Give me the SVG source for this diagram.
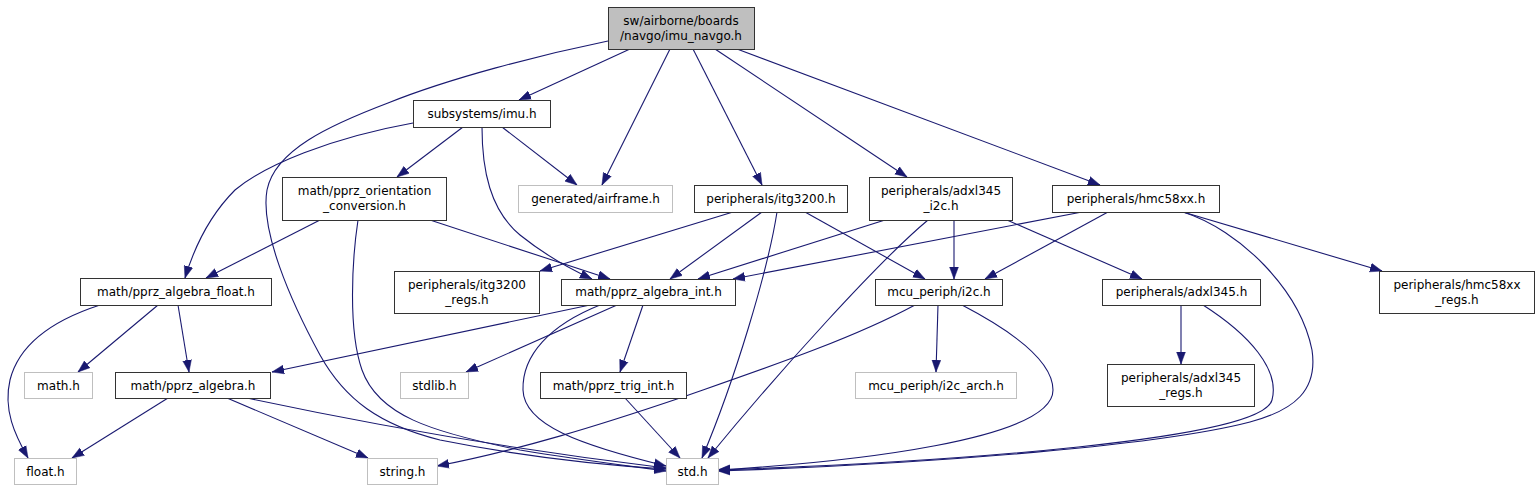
<svg xmlns="http://www.w3.org/2000/svg" width="1540" height="491" viewBox="0 0 1540 491">
<style>
.n rect{fill:#fff;stroke:#333;stroke-width:1}
.g rect{fill:#fff;stroke:#bfbfbf;stroke-width:1}
.r rect{fill:#bfbfbf;stroke:#333;stroke-width:1}
text{font-family:"DejaVu Sans",sans-serif;font-size:12px;fill:#000;text-anchor:middle}
#edges path{fill:none;stroke:#191970;stroke-width:1.1;marker-end:url(#a)}
</style>
<defs>
<marker id="a" markerWidth="12" markerHeight="10" refX="12" refY="5" orient="auto" markerUnits="userSpaceOnUse">
<path d="M0,0.6 L12,5 L0,9.4 z" fill="#191970" stroke="#191970" stroke-width="0.5"/>
</marker>
</defs>
<rect width="1540" height="491" fill="#fff"/>
<g id="edges">
<path d="M630,49 L519,100"/>
<path d="M608,41 C540,55 450,78 388,103 C330,125 275,150 267,190 C260,230 290,300 320,355 C345,400 380,425 440,440 C520,456 600,465 666,469"/>
<path d="M670,49 L602,185"/>
<path d="M693,49 L762,185"/>
<path d="M715,49 L907,177"/>
<path d="M737,49 L1100,185"/>
<path d="M463,127 L397,177"/>
<path d="M502,127 L577,185"/>
<path d="M413,123 C330,138 265,165 235,190 C210,215 195,245 185,278"/>
<path d="M482,127 C482,170 490,210 520,235 C545,255 568,268 592,279"/>
<path d="M320,220 L206,278"/>
<path d="M358,220 C352,260 348,330 362,370 C378,415 430,432 520,450 C580,460 630,466 666,471"/>
<path d="M430,220 L610,279"/>
<path d="M733,212 L540,271"/>
<path d="M762,212 L670,279"/>
<path d="M777,212 C768,270 735,380 702,458"/>
<path d="M805,212 L925,279"/>
<path d="M885,220 L698,279"/>
<path d="M928,220 C880,260 780,370 708,458"/>
<path d="M954,220 L954,279"/>
<path d="M1007,220 L1142,279"/>
<path d="M1082,212 L733,279"/>
<path d="M1108,212 L985,279"/>
<path d="M1183,212 L1382,271"/>
<path d="M1183,212 C1240,230 1300,290 1312,350 C1318,390 1295,410 1250,422 C1150,448 900,465 718,471"/>
<path d="M100,305 C60,318 20,340 10,380 C3,410 15,435 28,458"/>
<path d="M158,305 L78,372"/>
<path d="M178,305 L189,372"/>
<path d="M590,305 L272,372"/>
<path d="M617,305 L466,372"/>
<path d="M643,305 L620,372"/>
<path d="M600,305 C550,325 522,355 523,390 C524,425 580,445 666,466"/>
<path d="M168,398 L72,458"/>
<path d="M227,398 L368,458"/>
<path d="M247,398 C350,420 500,448 666,468"/>
<path d="M625,398 L680,458"/>
<path d="M938,305 L936,372"/>
<path d="M915,305 C850,340 760,370 680,398 C600,425 520,450 437,466"/>
<path d="M962,305 C1010,330 1053,360 1053,390 C1053,440 850,462 718,470"/>
<path d="M1181,305 L1181,364"/>
<path d="M1203,305 C1250,335 1280,370 1272,400 C1262,440 950,462 718,470"/>
</g>
<g id="root" class="r"><rect x="608.5" y="7.5" width="146" height="42"/><text x="681" y="25">sw/airborne/boards</text><text x="681" y="40">/navgo/imu_navgo.h</text></g>
<g id="imu" class="n"><rect x="413.5" y="100.5" width="137" height="27"/><text x="482" y="118">subsystems/imu.h</text></g>
<g id="airframe" class="g"><rect x="518.5" y="185.5" width="154" height="27"/><text x="595.5" y="203">generated/airframe.h</text></g>
<g id="itg3200" class="n"><rect x="694.5" y="185.5" width="153" height="27"/><text x="771" y="203">peripherals/itg3200.h</text></g>
<g id="adxl345_i2c" class="n"><rect x="869.5" y="177.5" width="143" height="43"/><text x="941" y="195">peripherals/adxl345</text><text x="941" y="210">_i2c.h</text></g>
<g id="hmc58xx" class="n"><rect x="1052.5" y="185.5" width="167" height="27"/><text x="1136" y="203">peripherals/hmc58xx.h</text></g>
<g id="orient" class="n"><rect x="282.5" y="177.5" width="164" height="43"/><text x="364.5" y="195">math/pprz_orientation</text><text x="364.5" y="210">_conversion.h</text></g>
<g id="algfloat" class="n"><rect x="80.5" y="278.5" width="191" height="27"/><text x="176" y="296">math/pprz_algebra_float.h</text></g>
<g id="itgregs" class="n"><rect x="394.5" y="271.5" width="145" height="42"/><text x="467" y="289">peripherals/itg3200</text><text x="467" y="304">_regs.h</text></g>
<g id="algint" class="n"><rect x="561.5" y="279.5" width="174" height="26"/><text x="648.5" y="296">math/pprz_algebra_int.h</text></g>
<g id="i2c" class="n"><rect x="875.5" y="279.5" width="127" height="26"/><text x="939" y="296">mcu_periph/i2c.h</text></g>
<g id="adxl345" class="n"><rect x="1102.5" y="279.5" width="158" height="26"/><text x="1181.5" y="296">peripherals/adxl345.h</text></g>
<g id="hmcregs" class="n"><rect x="1379.5" y="271.5" width="155" height="42"/><text x="1457" y="289">peripherals/hmc58xx</text><text x="1457" y="304">_regs.h</text></g>
<g id="mathh" class="g"><rect x="24.5" y="372.5" width="68" height="26"/><text x="58.5" y="390">math.h</text></g>
<g id="alg" class="n"><rect x="115.5" y="372.5" width="155" height="26"/><text x="193" y="390">math/pprz_algebra.h</text></g>
<g id="stdlib" class="g"><rect x="400.5" y="372.5" width="68" height="26"/><text x="434.5" y="390">stdlib.h</text></g>
<g id="trig" class="n"><rect x="540.5" y="372.5" width="146" height="26"/><text x="613.5" y="390">math/pprz_trig_int.h</text></g>
<g id="i2carch" class="g"><rect x="855.5" y="372.5" width="161" height="26"/><text x="936" y="390">mcu_periph/i2c_arch.h</text></g>
<g id="adxlregs" class="n"><rect x="1107.5" y="364.5" width="147" height="42"/><text x="1181" y="382">peripherals/adxl345</text><text x="1181" y="397">_regs.h</text></g>
<g id="float" class="g"><rect x="14.5" y="458.5" width="62" height="26"/><text x="45.5" y="476">float.h</text></g>
<g id="string" class="g"><rect x="367.5" y="458.5" width="70" height="26"/><text x="402.5" y="476">string.h</text></g>
<g id="std" class="g"><rect x="666.5" y="458.5" width="52" height="26"/><text x="692.5" y="476">std.h</text></g>
</svg>
